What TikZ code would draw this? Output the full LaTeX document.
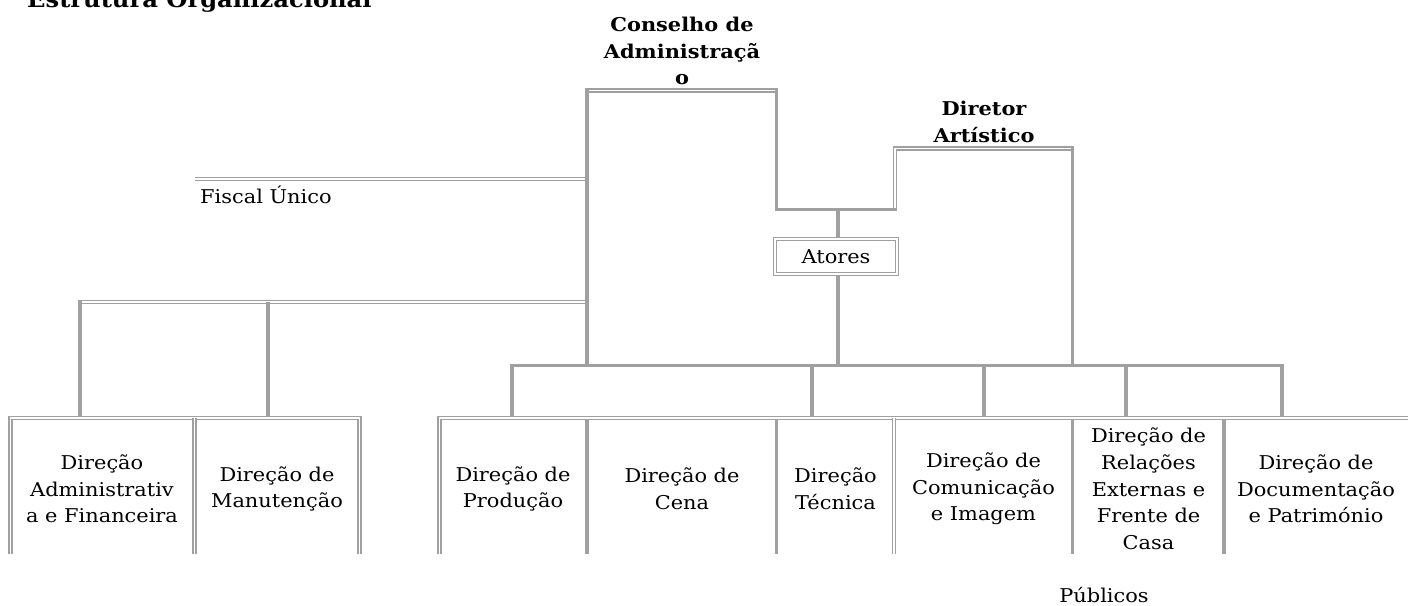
\documentclass[tikz,border=0pt]{standalone}
\usepackage{fontspec}
\setmainfont{DejaVu Serif}[FakeStretch=1.1]
\definecolor{rulegray}{HTML}{A0A0A0}

\begin{document}
\begin{tikzpicture}[x=1pt, y=-1pt,
    thickrule/.style={draw=rulegray, line width=3.9pt},
    dblrule/.style={draw=rulegray, line width=1.3pt, double=white, double distance=1.6pt},
    celltext/.style={font=\fontsize{19}{26.7}\selectfont, align=center, inner sep=0pt},
    headtext/.style={celltext, font=\fontsize{19}{26.7}\selectfont\bfseries}]
    % 1. Page size (the title is cut by the top edge)
    \useasboundingbox (0,0) rectangle (1408,605);

    % 2. Title and top labels
    \node[anchor=base west, inner sep=0pt, font=\fontsize{22}{26}\selectfont\bfseries] (title) at (27,8) {Estrutura Organizacional};
    \node[headtext] (conselho) at (682,51) {Conselho de\\Administraçã\\o};
    \node[headtext] (diretor) at (984,122) {Diretor\\Artístico};
    \node[celltext, anchor=base west] (fiscal) at (200,203) {Fiscal Único};
    \node[celltext, dblrule, minimum width=122pt, minimum height=35pt] (atores) at (836,256.5) {Atores};

    % 3. Corner points of the frame
    \coordinate (cnsTL) at (585,90.5);
    \coordinate (cnsTR) at (778,90.5);
    \coordinate (cnsL) at (587,88.4);
    \coordinate (cnsR) at (776.5,88.4);
    \coordinate (midL) at (776.5,209.5);
    \coordinate (midR) at (897,209.5);
    \coordinate (midC) at (838,209.5);
    \coordinate (dirBL) at (895,209.5);
    \coordinate (dirTR) at (1074.2,148.5);
    \coordinate (dirR) at (1072.5,146.4);
    \coordinate (fisL) at (195,179);
    \coordinate (fisR) at (587,179);
    \coordinate (admL) at (78.2,302);
    \coordinate (admR) at (587,302);
    \coordinate (admA) at (80,300);
    \coordinate (admB) at (268,302);
    \coordinate (barL) at (512,365.5);
    \coordinate (barR) at (1282,365.5);
    \coordinate (barC) at (838,365.5);
    \coordinate (barS) at (587,365.5);
    \coordinate (barD) at (1072.5,365.5);
    \coordinate (dropA) at (812,365.5);
    \coordinate (dropB) at (984,365.5);
    \coordinate (dropC) at (1126,365.5);
    \coordinate (boxTop) at (0,416);
    \coordinate (boxIn) at (0,420);
    \coordinate (boxEnd) at (0,554);
    \coordinate (leftBL) at (10.5,554);
    \coordinate (leftTR) at (359.5,418);
    \coordinate (leftMid) at (194.5,418);
    \coordinate (rightBL) at (439.5,554);
    \coordinate (rightTR) at (1410,418);
    \coordinate (rightMid) at (894,418);
    \coordinate (divD) at (1224,420);

    % 4. Double lines
    \draw[dblrule] (cnsTL) -- (cnsTR);
    \draw[dblrule] (dirBL) |- (dirTR);
    \draw[dblrule] (fisL) -- (fisR);
    \draw[dblrule] (admL) -- (admR);
    \draw[dblrule] (leftBL) |- (leftTR) -- (leftTR |- boxEnd);
    \draw[dblrule] (leftMid) -- (leftMid |- boxEnd);
    \draw[dblrule] (rightBL) |- (rightTR);
    \draw[dblrule] (rightMid) -- (rightMid |- boxEnd);

    % 5. Thick lines
    \draw[thickrule] (cnsL) -- (barS);
    \draw[thickrule] (cnsR) -- (midL) -- (midR);
    \draw[thickrule] (dirR) -- (barD);
    \draw[thickrule] (midC) -- (midC |- atores.north);
    \draw[thickrule] (midC |- atores.south) -- (barC);
    \draw[thickrule] (admA) -- (admA |- boxTop);
    \draw[thickrule] (admB) -- (admB |- boxTop);
    \draw[thickrule] (barL |- boxTop) -- (barL) -- (barR) -- (barR |- boxTop);
    \draw[thickrule] (dropA) -- (dropA |- boxTop);
    \draw[thickrule] (dropB) -- (dropB |- boxTop);
    \draw[thickrule] (dropC) -- (dropC |- boxTop);
    \draw[thickrule] (barS |- boxIn) -- (barS |- boxEnd);
    \draw[thickrule] (cnsR |- boxIn) -- (cnsR |- boxEnd);
    \draw[thickrule] (barD |- boxIn) -- (barD |- boxEnd);
    \draw[thickrule] (divD) -- (divD |- boxEnd);

    % 6. Cell texts
    \node[celltext] (admfin) at (102,489) {Direção\\Administrativ\\a e Financeira};
    \node[celltext] (manut) at (277,489) {Direção de\\Manutenção};
    \node[celltext] (producao) at (513,489) {Direção de\\Produção};
    \node[celltext] (cena) at (682,489) {Direção de\\Cena};
    \node[celltext] (tecnica) at (835.5,489) {Direção\\Técnica};
    \node[celltext] (comunic) at (983.5,489) {Direção de\\Comunicação\\e Imagem};
    \node[celltext] (relext) at (1148.5,489) {Direção de\\Relações\\Externas e\\Frente de\\Casa};
    \node[celltext] (docpat) at (1316,489) {Direção de\\Documentação\\e Património};
    \node[celltext] (publicos) at (1104,595) {Públicos};
\end{tikzpicture}
\end{document}
